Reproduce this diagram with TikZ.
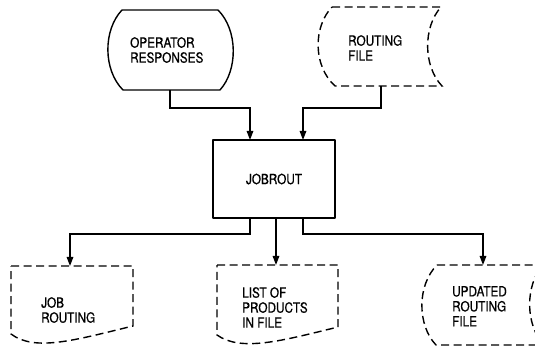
\documentclass[tikz,border=0pt]{standalone}
\usepackage{fontspec}
\setmainfont{TeX Gyre Heros}[FakeStretch=0.84,FakeBold=0.6]
\usetikzlibrary{arrows.meta}
\begin{document}
\begin{tikzpicture}[x=1pt,y=-1pt,
  solidline/.style={line width=1.4pt, line join=round},
  dashline/.style={line width=1.4pt, dash pattern=on 8pt off 4.5pt},
  flow/.style={line width=1.4pt, -{Triangle[length=9pt,width=6.5pt]}},
  label/.style={anchor=north west, inner sep=0pt, align=left,
    font=\fontsize{14}{15}\selectfont}]

\useasboundingbox (0,0) rectangle (535,347);
\clip (0,0) rectangle (535,347);

% operator input (display-style symbol)
\draw[solidline] (122,10) -- (218,10)
  .. controls (238,30) and (238,70) .. (220,90) -- (123,90)
  .. controls (103,70) and (103,30) .. (122,10) -- cycle;
\node[label] (opr) at (130,37) {OPERATOR\\RESPONSES};
\coordinate (op-out) at (170,90);

% routing file (online storage)
\draw[dashline] (332,7) -- (441,7)
  .. controls (423,27) and (423,66) .. (442,86) -- (335,86)
  .. controls (313,66) and (313,27) .. (332,7) -- cycle;
\node[label] (rtf) at (348,35) {ROUTING\\FILE};
\coordinate (rf-out) at (381,86);

% program
\node[draw, solidline, minimum width=122pt, minimum height=78pt, inner sep=0pt,
  font=\fontsize{14}{15}\selectfont] (job) at (274,179) {JOBROUT};
\coordinate (job-in1) at (250,140);
\coordinate (job-in2) at (303,140);
\coordinate (job-out1) at (250,218);
\coordinate (job-out2) at (276,218);
\coordinate (job-out3) at (303,218);

% job routing report
\draw[dashline] (11,266) -- (133,266) -- (133,326)
  .. controls (75,340) and (35,352) .. (11,334) -- cycle;
\node[label] (jrt) at (41,297) {JOB\\ROUTING};
\coordinate (jr-in) at (70,266);

% product list report
\draw[dashline] (217,265) -- (338,265) -- (338,327)
  .. controls (281,341) and (241,352) .. (217,335) -- cycle;
\node[label] (lst) at (242,287) {LIST OF\\PRODUCTS\\IN FILE};
\coordinate (lp-in) at (276,265);

% updated routing file (online storage)
\draw[dashline] (437,265) -- (543,265)
  .. controls (525,285) and (525,325) .. (544,345) -- (436,345)
  .. controls (417,325) and (417,285) .. (437,265) -- cycle;
\node[label] (upd) at (452,286) {UPDATED\\ROUTING\\FILE};
\coordinate (ur-in) at (483,265);

% flow lines
\draw[flow] (op-out) -- ++(0,18) -| (job-in1);
\draw[flow] (rf-out) -- ++(0,22) -| (job-in2);
\draw[flow] (job-out1) -- ++(0,16) -| (jr-in);
\draw[flow] (job-out2) -- (lp-in);
\draw[flow] (job-out3) -- ++(0,16) -| (ur-in);
\end{tikzpicture}
\end{document}
